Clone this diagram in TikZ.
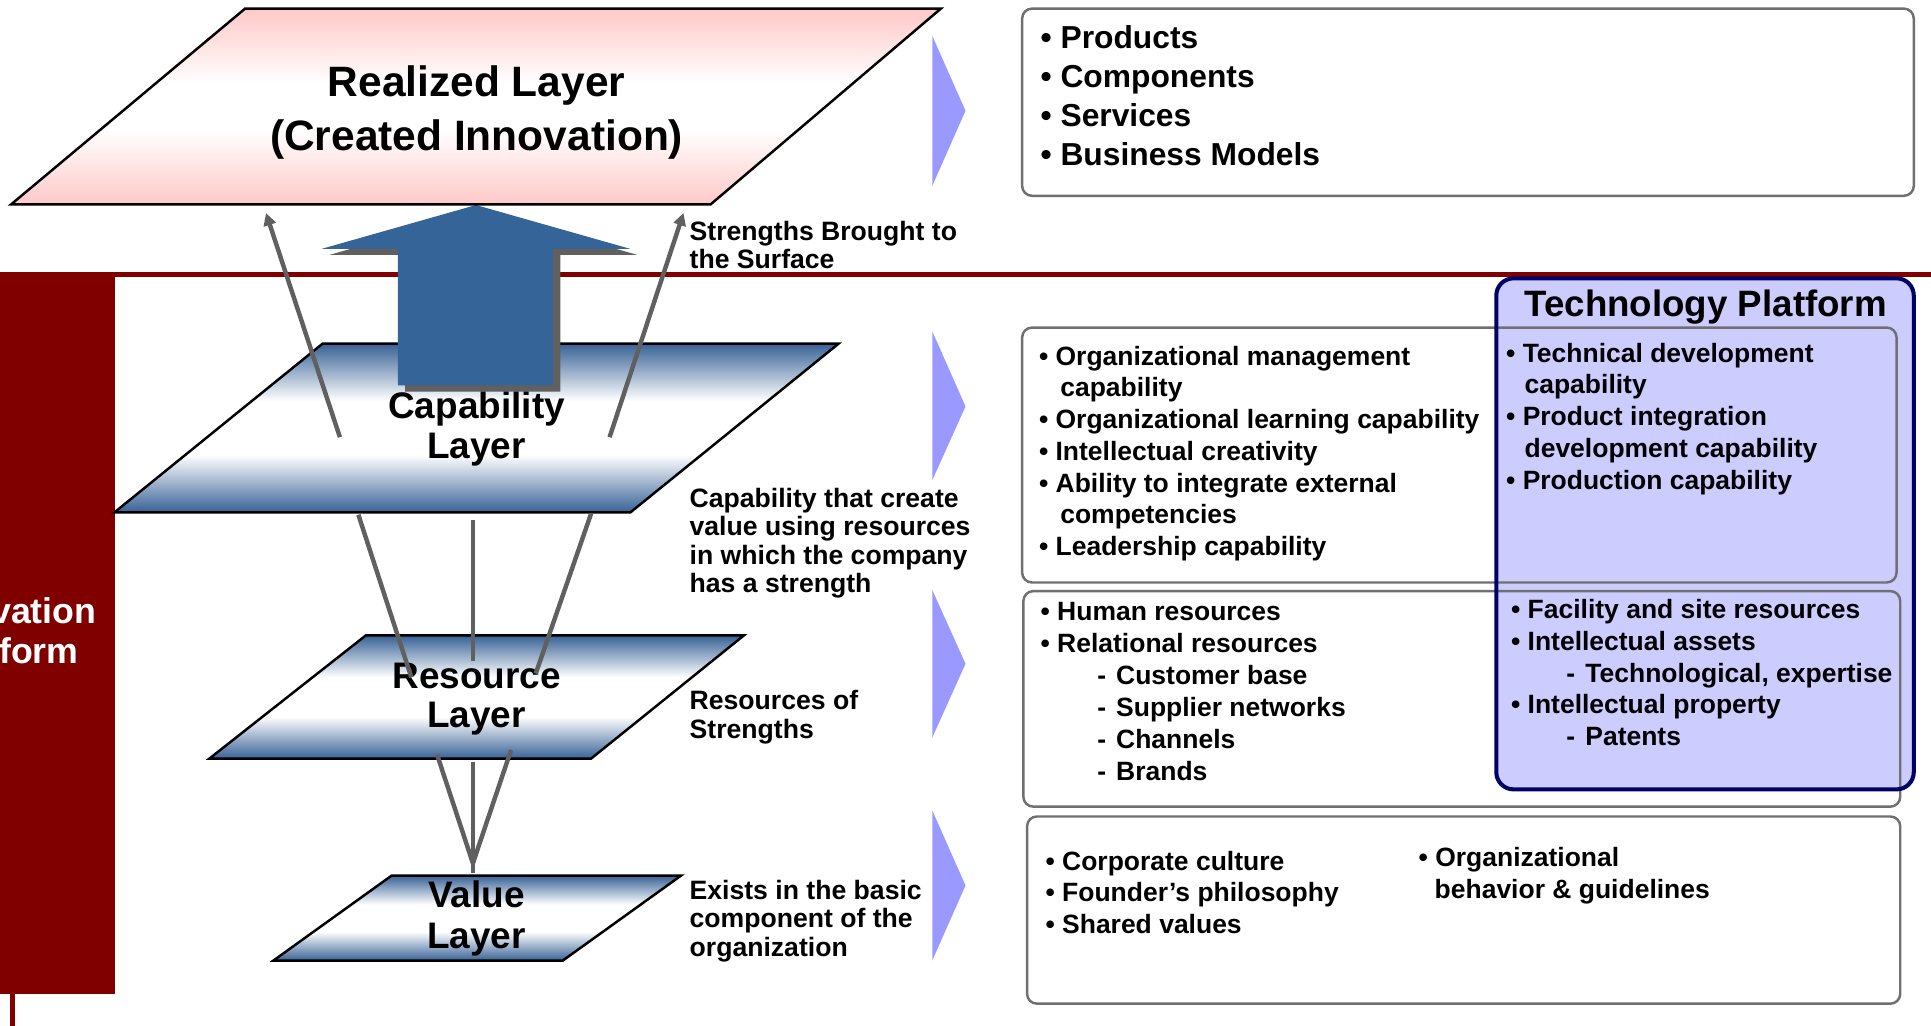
\documentclass[tikz,border=0pt]{standalone}
\usepackage{fontspec}
\setmainfont{Liberation Sans}
\usetikzlibrary{arrows.meta}

\definecolor{bandred}{HTML}{800000}
\definecolor{lyblue}{RGB}{56,98,150}
\definecolor{bigblue}{RGB}{53,100,152}
\definecolor{lypink}{HTML}{FFC8C8}
\definecolor{chevblue}{HTML}{9999FF}
\definecolor{techfill}{HTML}{CCCCFF}
\definecolor{technavy}{HTML}{000066}
\definecolor{boxgray}{HTML}{707070}
\definecolor{linegray}{HTML}{606060}

\pgfdeclareverticalshading{layerblue}{100bp}{color(0bp)=(lyblue); color(25bp)=(lyblue); color(42bp)=(white); color(58bp)=(white); color(75bp)=(lyblue); color(100bp)=(lyblue)}
\pgfdeclareverticalshading{layerpink}{100bp}{color(0bp)=(lypink); color(25bp)=(lypink); color(44bp)=(white); color(56bp)=(white); color(75bp)=(lypink); color(100bp)=(lypink)}

\begin{document}
\begin{tikzpicture}[x=0.5pt,y=-0.5pt,
  every node/.style={inner sep=0pt, outer sep=0pt},
  lyr/.style={anchor=base, font=\fontsize{15}{18}\selectfont\bfseries},
  rlz/.style={anchor=base, font=\fontsize{17.25}{20}\selectfont\bfseries},
  side/.style={anchor=base west, font=\fontsize{10.8}{13}\selectfont\bfseries},
  itm/.style={anchor=base west, font=\fontsize{10.75}{13}\selectfont\bfseries},
  bigitm/.style={anchor=base west, font=\fontsize{12.9}{15}\selectfont\bfseries},
  gbox/.style={draw=boxgray, line width=1pt, rounded corners=4pt},
  link/.style={draw=linegray, line width=1.8pt},
  uparrow/.style={link, -{Triangle[length=5pt,width=5pt]}},
  chev/.style={fill=chevblue},
  layerpath/.style={draw=black, line width=1pt, shading=layerblue}
]
\clip (0,0) rectangle (1568,833);
\fill[white] (0,0) rectangle (1568,833);

% maroon band: horizontal rule, side bar and its stub
\fill[bandred] (0,221) rectangle (93,807);
\draw[bandred, line width=2pt] (0,223) -- (1568,223);
\draw[bandred, line width=2pt] (10,807) -- (10,833);
\node[anchor=base, text=white, font=\fontsize{14.5}{17}\selectfont\bfseries] (plat1) at (5,506) {Innovation};
\node[anchor=base, text=white, font=\fontsize{14.5}{17}\selectfont\bfseries] (plat2) at (5,538.5) {Platform};

% layers
\shadedraw[layerpath] (262,279) -- (681,279) -- (512,416) -- (93,416) -- cycle;
\shadedraw[layerpath] (297,516) -- (604,516) -- (480,616) -- (170,616) -- cycle;
\shadedraw[layerpath] (318,711) -- (553,711) -- (457,780) -- (222,780) -- cycle;

\node[lyr] (cap1) at (387,340) {Capability};
\node[lyr] (cap2) at (387,372) {Layer};
\node[lyr] (res1) at (387,559) {Resource};
\node[lyr] (res2) at (387,591) {Layer};
\node[lyr] (val1) at (387,737) {Value};
\node[lyr] (val2) at (387,770) {Layer};

% connectors between layers
\coordinate (cl) at (291,418);  \coordinate (rl) at (334,550);
\coordinate (cm) at (384,422);  \coordinate (rm) at (384,537);
\coordinate (cr) at (480,417);  \coordinate (rr) at (435,547);
\coordinate (rbl) at (355,613); \coordinate (rbr) at (415,609);
\coordinate (rbm) at (384,619); \coordinate (vt) at (384,701);
\coordinate (vm) at (384,709);
\draw[link] (cl) -- (rl);
\draw[link] (cm) -- (rm);
\draw[link] (cr) -- (rr);
\draw[link] (rbl) -- (vt);
\draw[link] (rbr) -- (vt);
\draw[link] (rbm) -- (vm);

% big upward arrow with its shadow
\fill[linegray, shift={(6,5)}] (386.5,166.5) -- (511.5,202) -- (449,202) -- (449,313) -- (323,313) -- (323,202) -- (261.5,202) -- cycle;
\fill[bigblue] (386.5,166.5) -- (511.5,202) -- (449,202) -- (449,313) -- (323,313) -- (323,202) -- (261.5,202) -- cycle;

% realized layer
\shadedraw[draw=black, line width=1pt, shading=layerpink] (199,7) -- (764,7) -- (577,166) -- (9,166) -- cycle;
\node[rlz] (rlz1) at (387,78.5) {Realized Layer};
\node[rlz] (rlz2) at (387,122.5) {(Created Innovation)};

% strengths brought up
\coordinate (al0) at (276,355); \coordinate (al1) at (216,173);
\coordinate (ar0) at (495,355); \coordinate (ar1) at (555,173);
\draw[uparrow] (al0) -- (al1);
\draw[uparrow] (ar0) -- (ar1);

% side captions
\node[side] (s1) at (560,195) {Strengths Brought to};
\node[side] (s2) at (560,218) {the Surface};
\foreach \t [count=\i from 0] in {Capability that create, value using resources, in which the company, has a strength}
  \node[side] (cc\i) at (560,{412+23*\i}) {\t};
\node[side] (rs1) at (560,576) {Resources of};
\node[side] (rs2) at (560,599.5) {Strengths};
\foreach \t [count=\i from 0] in {Exists in the basic, component of the, organization}
  \node[side] (ex\i) at (560,{730.5+23*\i}) {\t};

% chevrons
\foreach \ya/\yb/\yc [count=\i] in {29/90/151, 269/330/390, 479/539/599, 658/719/780}
  \fill[chev] (757,\ya) -- (784,\yb) -- (757,\yc) -- cycle;

% right-hand boxes
\draw[gbox] (830,7) rectangle (1554,159);
\foreach \t [count=\i from 0] in {Products, Components, Services, Business Models}
  \node[bigitm] (out\i) at (845,{39.5+31.5*\i}) {• \t};

\fill[techfill, rounded corners=7pt] (1215,226) rectangle (1554,641);
\draw[gbox] (830,266) rectangle (1540,473);
\draw[gbox] (831,480) rectangle (1543,655);
\draw[gbox] (834,663) rectangle (1543,815);
\draw[technavy, line width=1.65pt, rounded corners=7pt] (1215,226) rectangle (1554,641);
\node[anchor=base, font=\fontsize{14.9}{17}\selectfont\bfseries] (tech) at (1385,257) {Technology Platform};

\foreach \px/\t [count=\i from 0] in {843.7/{• Organizational management}, 861/{capability}, 843.7/{• Organizational learning capability}, 843.7/{• Intellectual creativity}, 843.7/{• Ability to integrate external}, 861/{competencies}, 843.7/{• Leadership capability}}
  \node[itm] (capi\i) at (\px,{296.4+25.8*\i}) {\t};

\foreach \px/\t [count=\i from 0] in {1223/{• Technical development}, 1238/{capability}, 1223/{• Product integration}, 1238/{development capability}, 1223/{• Production capability}}
  \node[itm] (tci\i) at (\px,{294+25.8*\i}) {\t};

\foreach \px/\t [count=\i from 0] in {845/{• Human resources}, 845/{• Relational resources}, 891/{-\hspace{4.1pt}Customer base}, 891/{-\hspace{4.1pt}Supplier networks}, 891/{-\hspace{4.1pt}Channels}, 891/{-\hspace{4.1pt}Brands}}
  \node[itm] (resi\i) at (\px,{503.5+26*\i}) {\t};

\foreach \px/\t [count=\i from 0] in {1227/{• Facility and site resources}, 1227/{• Intellectual assets}, 1272/{-\hspace{4.1pt}Technological, expertise}, 1227/{• Intellectual property}, 1272/{-\hspace{4.1pt}Patents}}
  \node[itm] (tri\i) at (\px,{502+25.9*\i}) {\t};

\foreach \t [count=\i from 0] in {{• Corporate culture}, {• Founder’s philosophy}, {• Shared values}}
  \node[itm] (vli\i) at (849,{706.5+25.7*\i}) {\t};
\node[itm] (org1) at (1152,703.8) {• Organizational};
\node[itm] (org2) at (1165,729.5) {behavior \& guidelines};
\end{tikzpicture}
\end{document}
